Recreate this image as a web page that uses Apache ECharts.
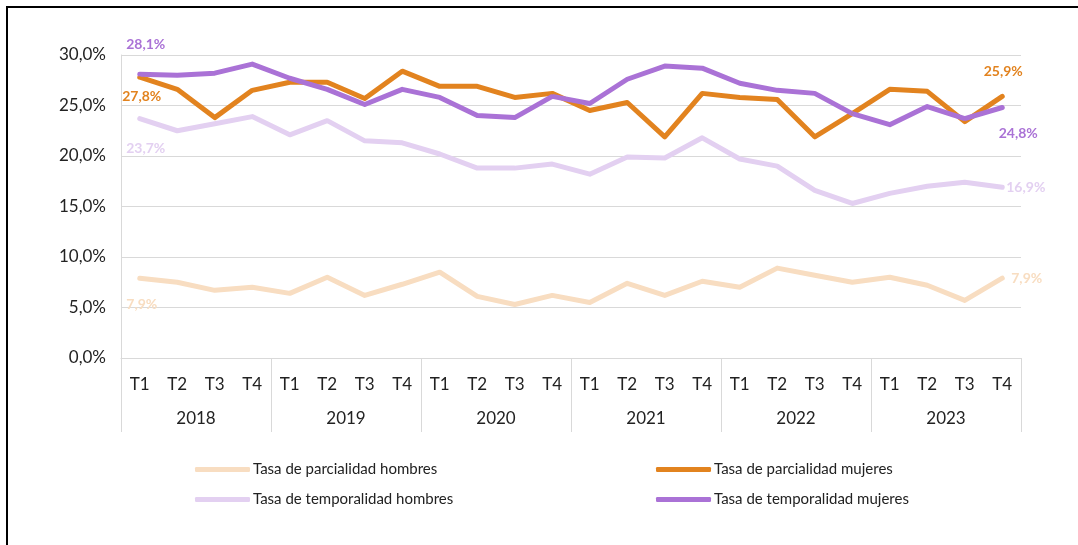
<!DOCTYPE html>
<html>
<head>
<meta charset="utf-8">
<script src="https://cdn.jsdelivr.net/npm/echarts@6/dist/echarts.min.js"></script>
<style>
  html, body { margin: 0; padding: 0; background: #fff; }
  #main { width: 1078px; height: 545px; }
</style>
</head>
<body>
<div id="main"></div>
<script>
var quarters = [];
const years = ['2018', '2019', '2020', '2021', '2022', '2023'];
years.forEach(function () { quarters.push('T1', 'T2', 'T3', 'T4'); });

const parcHombres = [7.9, 7.5, 6.7, 7.0, 6.4, 8.0, 6.2, 7.3, 8.5, 6.1, 5.3, 6.2,
  5.5, 7.4, 6.2, 7.6, 7.0, 8.9, 8.2, 7.5, 8.0, 7.2, 5.7, 7.9];
const parcMujeres = [27.8, 26.6, 23.8, 26.5, 27.3, 27.3, 25.7, 28.4, 26.9, 26.9, 25.8, 26.2,
  24.5, 25.3, 21.9, 26.2, 25.8, 25.6, 21.9, 24.2, 26.6, 26.4, 23.4, 25.9];
const tempHombres = [23.7, 22.5, 23.2, 23.9, 22.1, 23.5, 21.5, 21.3, 20.2, 18.8, 18.8, 19.2,
  18.2, 19.9, 19.8, 21.8, 19.7, 19.0, 16.6, 15.3, 16.3, 17.0, 17.4, 16.9];
const tempMujeres = [28.1, 28.0, 28.2, 29.1, 27.7, 26.6, 25.1, 26.6, 25.8, 24.0, 23.8, 25.9,
  25.2, 27.6, 28.9, 28.7, 27.2, 26.5, 26.2, 24.2, 23.1, 24.9, 23.7, 24.8];

const names = [
  'Tasa de parcialidad hombres',
  'Tasa de parcialidad mujeres',
  'Tasa de temporalidad hombres',
  'Tasa de temporalidad mujeres'
];
const colors = ['#F8DDC1', '#E2831F', '#E3D0F1', '#AA72D6'];

var myChart = echarts.init(document.getElementById('main'));
var font = 'Lato, "Noto Sans", sans-serif';

function fmt (v) {
  return v.toFixed(1).replace('.', ',') + '%';
}

// only first and last point carry a label
function withLabels (values, color, first, last) {
  return values.map(function (v, i) {
    if (i === 0 || i === values.length - 1) {
      var pos = i === 0 ? first : last;
      return {
        value: v,
        label: {
          show: true,
          position: pos.position,
          offset: pos.offset,
          distance: 5,
          formatter: fmt(v),
          color: color,
          fontWeight: 'bold',
          fontSize: 14,
          fontFamily: font
        }
      };
    }
    return v;
  });
}

function lineSeries (idx, values, first, last) {
  return {
    name: names[idx],
    type: 'line',
    data: withLabels(values, colors[idx], first, last),
    symbol: 'circle',
    symbolSize: 2,
    showSymbol: true,
    lineStyle: { color: colors[idx], width: 5, cap: 'round', join: 'round' },
    itemStyle: { color: colors[idx] },
    label: { show: false },
    emphasis: { disabled: true },
    z: idx % 2 === 1 ? 3 : 2
  };
}

var legendBase = {
  orient: 'vertical',
  top: 457,
  itemWidth: 55,
  itemHeight: 5,
  itemGap: 15,
  icon: 'roundRect',
  textStyle: { fontSize: 15, color: '#222', fontFamily: font, padding: [0, 0, 0, -2] }
};

var option = {
  animation: false,
  graphic: [
    { type: 'line', shape: { x1: 7, y1: 7, x2: 7, y2: 545 }, style: { stroke: '#000', lineWidth: 2 } },
    { type: 'line', shape: { x1: 6, y1: 7, x2: 1078, y2: 7 }, style: { stroke: '#000', lineWidth: 2 } }
  ],
  legend: [
    Object.assign({}, legendBase, { data: [names[0], names[2]], left: 190 }),
    Object.assign({}, legendBase, { data: [names[1], names[3]], left: 651 })
  ],
  grid: { left: 121, right: 57, top: 55, bottom: 187, containLabel: false },
  xAxis: [{
    type: 'category',
    data: quarters,
    position: 'bottom',
    boundaryGap: true,
    axisLine: { show: true, lineStyle: { color: '#D9D9D9', width: 1 } },
    axisTick: { show: false },
    axisLabel: { interval: 0, margin: 18, fontSize: 17, color: '#222', fontFamily: font }
  }, {
    type: 'category',
    data: years,
    position: 'bottom',
    boundaryGap: true,
    axisLine: { show: false },
    axisTick: { show: true, length: 74, lineStyle: { color: '#D9D9D9', width: 1 } },
    axisLabel: { interval: 0, margin: 52, fontSize: 17, color: '#222', fontFamily: font }
  }],
  yAxis: {
    type: 'value',
    min: 0,
    max: 30,
    interval: 5,
    axisLine: { show: true, lineStyle: { color: '#D9D9D9' } },
    axisTick: { show: false },
    splitLine: { lineStyle: { color: '#D9D9D9', width: 1 } },
    axisLabel: {
      margin: 15,
      fontSize: 17,
      color: '#222',
      fontFamily: font,
      formatter: function (v) { return fmt(v); }
    }
  },
  series: [
    lineSeries(0, parcHombres,
      { position: 'bottom', offset: [2, 13] },
      { position: 'right', offset: [3, 0] }),
    lineSeries(2, tempHombres,
      { position: 'bottom', offset: [6, 17] },
      { position: 'right', offset: [-2, 0] }),
    lineSeries(1, parcMujeres,
      { position: 'bottom', offset: [2, 6] },
      { position: 'top', offset: [1, -12] }),
    lineSeries(3, tempMujeres,
      { position: 'top', offset: [6, -17] },
      { position: 'bottom', offset: [16, 13] })
  ]
};

myChart.setOption(option);
</script>
</body>
</html>
